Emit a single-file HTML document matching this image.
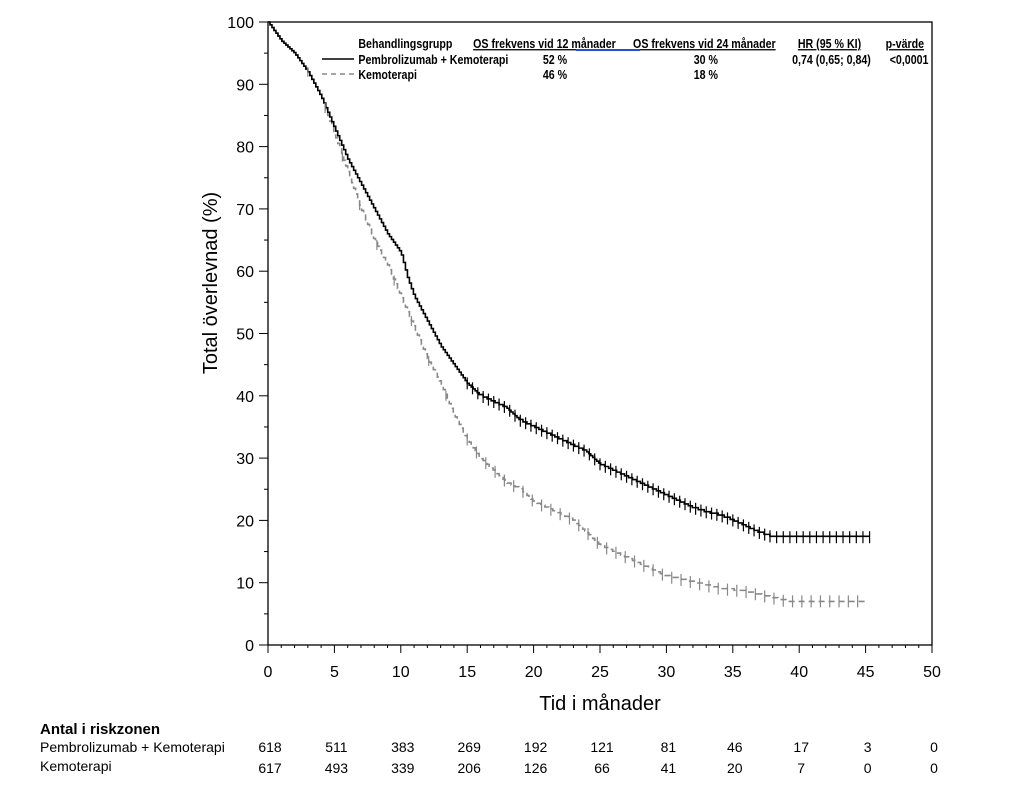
<!DOCTYPE html>
<html><head><meta charset="utf-8"><style>
body{margin:0;background:#fff;width:1011px;height:802px;overflow:hidden;font-family:"Liberation Sans",Arial,sans-serif}
svg{position:absolute;left:0;top:0}
</style></head><body>
<svg id="s" width="1011" height="802" xmlns="http://www.w3.org/2000/svg" font-family="Liberation Sans, Arial, sans-serif">
<rect x="268" y="22" width="664" height="623" fill="none" stroke="#000" stroke-width="1.3"/>
<g id="ax"></g>
<text x="600" y="710" font-size="20" text-anchor="middle">Tid i månader</text>
<text transform="translate(217,283) rotate(-90)" font-size="20" text-anchor="middle">Total överlevnad (%)</text>
<g font-size="13" font-weight="bold" transform="scale(0.82,1)">
<text x="437" y="48">Behandlingsgrupp</text>
<text x="577" y="48" text-decoration="underline">OS frekvens vid 12 månader</text>
<text x="772" y="48" text-decoration="underline">OS frekvens vid 24 månader</text>
<text x="973" y="48" text-decoration="underline">HR (95 % KI)</text>
<text x="1080" y="48" text-decoration="underline">p-värde</text>
<text x="437" y="64">Pembrolizumab + Kemoterapi</text>
<text x="662" y="64">52 %</text>
<text x="846" y="64">30 %</text>
<text x="966" y="64">0,74 (0,65; 0,84)</text>
<text x="1085" y="64">&lt;0,0001</text>
<text x="437" y="79">Kemoterapi</text>
<text x="662" y="79">46 %</text>
<text x="846" y="79">18 %</text>
</g>
<line x1="576" y1="50" x2="640" y2="50" stroke="#2050d0" stroke-width="2"/>
<line x1="322" y1="59" x2="354" y2="59" stroke="#000" stroke-width="1.5"/>
<line x1="322" y1="74" x2="354" y2="74" stroke="#888" stroke-width="1.5" stroke-dasharray="5,4"/>
<text x="40" y="734" font-size="15" font-weight="bold">Antal i riskzonen</text>
<text x="40" y="752" font-size="14">Pembrolizumab + Kemoterapi</text>
<text x="40" y="771" font-size="14">Kemoterapi</text>
<g id="risk" font-size="14" text-anchor="middle"></g>
<g id="cur"></g>
</svg>
<script>
const X=t=>268+t*13.28, Y=v=>645-v*6.23;
let ax='';
for(let i=0;i<=50;i++){const x=X(i);ax+=`<line x1="${x}" y1="645" x2="${x}" y2="${645+(i%5?3:8)}" stroke="#000"/>`;
 if(i%5==0)ax+=`<text x="${x}" y="677" font-size="16" text-anchor="middle">${i}</text>`;}
for(let v=0;v<=100;v+=5){const y=Y(v);ax+=`<line x1="${v%10?264:259}" y1="${y}" x2="268" y2="${y}" stroke="#000"/>`;
 if(v%10==0)ax+=`<text x="254" y="${y+6}" font-size="16" text-anchor="end">${v}</text>`;}
document.getElementById('ax').innerHTML=ax;
const r1=[618,511,383,269,192,121,81,46,17,3,0],r2=[617,493,339,206,126,66,41,20,7,0,0];
let rs='';r1.forEach((n,i)=>{rs+=`<text x="${X(i*5)+2}" y="752">${n}</text><text x="${X(i*5)+2}" y="773">${r2[i]}</text>`});
document.getElementById('risk').innerHTML=rs;
const A=[[0,100],[1,97],[2,95],[3,92],[4,88],[5,83],[6,78],[7,74],[8,70],[9,66],[10,63],[10.5,59],[11,56],[12,52],[13,48],[14,45],[15,42],[16,40],[17,39],[18,38],[19,36],[20,35],[21,34],[22,33],[23,32],[24,31],[25,29],[26,28],[27,27],[28,26],[29,25],[30,24],[31,23],[32,22],[33,21.3],[34,20.8],[35,20],[36,19],[37,18],[38,17.3],[45.3,17.3]];
const B=[[0,100],[1,97],[2,95],[3,92],[4,88],[5,82],[6,76],[7,70],[8,65],[9,61],[10,56],[11,51],[12,46],[13,42],[14,37],[15,33],[16,30],[17,28],[18,26],[19,25],[20,23],[21,22],[22,21],[23,20],[24,18],[25,16],[26,15],[27,14],[28,13],[29,12],[30,11],[31,10.5],[32,10],[33,9.5],[34,9],[35,8.8],[36,8.5],[37,8],[38,7.5],[39,7],[45,7]];
function interp(P,t){for(let i=1;i<P.length;i++)if(t<=P[i][0]){const a=P[i-1],b=P[i];return a[1]+(b[1]-a[1])*(t-a[0])/(b[0]-a[0]);}return P[P.length-1][1];}
function path(P,end){let d='',last=100,s=0.15;for(let t=0;t<=end;t+=s){let v=interp(P,t);if(v<last-0.25){d+=`L${X(t)},${Y(last)}L${X(t)},${Y(v)}`;last=v;}else if(t==0)d=`M${X(0)},${Y(100)}`;}
 d+=`L${X(end)},${Y(last)}`;return d;}
function cens(P,from,to,step,col,h){let s='';for(let t=from;t<=to;t+=step){const x=X(t),y=Y(interp(P,t));s+=`<line x1="${x}" y1="${y-h}" x2="${x}" y2="${y+h}" stroke="${col}" stroke-width="1.2"/>`;}return s;}
let c=`<path d="${path(B,45)}" fill="none" stroke="#888" stroke-width="1.6" stroke-dasharray="6,4"/>`;
c+=`<path d="${path(A,45.3)}" fill="none" stroke="#000" stroke-width="1.6"/>`;
c+=cens(A,15,38,0.4,'#000',6)+cens(A,38.3,45.3,0.5,'#000',6);
c+=cens(B,3,14,1.3,'#888',5)+cens(B,15,45,0.7,'#888',6);
document.getElementById('cur').innerHTML=c;
</script>
</body></html>
